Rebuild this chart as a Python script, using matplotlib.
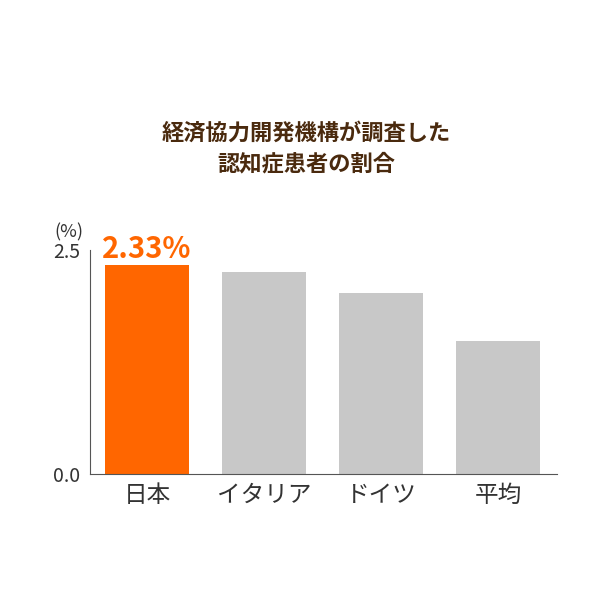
import matplotlib.pyplot as plt
plt.rcParams['font.family'] = ['Noto Sans CJK JP', 'DejaVu Sans']

categories = ['日本', 'イタリア', 'ドイツ', '平均']
values = [2.33, 2.26, 2.02, 1.49]
colors = ['#ff6600', '#c8c8c8', '#c8c8c8', '#c8c8c8']

fig = plt.figure(figsize=(6, 6), dpi=100)
ax = fig.add_axes([0.15, 0.21, 0.778, 0.373])
x = range(len(categories))
ax.bar(x, values, width=0.718, color=colors)
ax.set_xlim(-0.487, 3.5)
ax.set_ylim(0, 2.5)
ax.set_yticks([0, 2.5])
ax.set_yticklabels(['0.0', '2.5'], fontsize=14, color='#333333')
ax.set_xticks(list(x))
ax.set_xticklabels(categories, fontsize=17, color='#333333')
ax.tick_params(axis='both', length=0, pad=7)
for s in ['top', 'right']:
    ax.spines[s].set_visible(False)
for s in ['left', 'bottom']:
    ax.spines[s].set_color('#555555')
ax.text(0, values[0] + 0.02, f'{values[0]:.2f}%', ha='center', va='bottom',
        fontsize=21, fontweight='bold', color='#ff6600')
fig.text(0.115, 0.605, '(%)', fontsize=13, color='#333333', ha='center')
fig.text(0.51, 0.752, '経済協力開発機構が調査した\n認知症患者の割合', ha='center', va='center',
         fontsize=16, fontweight='bold', color='#4a2a0e', linespacing=1.45)
fig.savefig('out.png', dpi=100)
